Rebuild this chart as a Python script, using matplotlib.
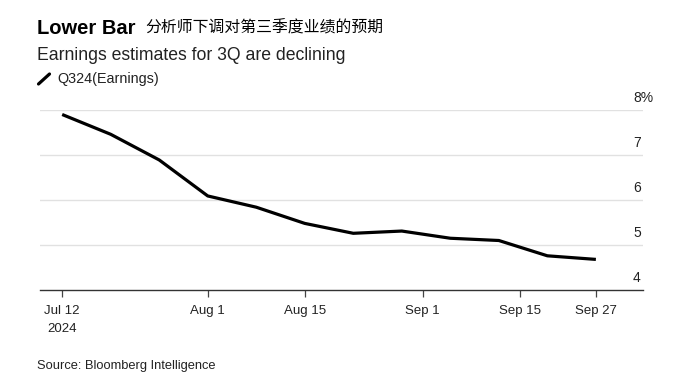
import matplotlib
matplotlib.use("Agg")
import matplotlib.pyplot as plt
import matplotlib.dates as mdates
import matplotlib.transforms as mtransforms
import numpy as np
from matplotlib.lines import Line2D

# weekly readings of the Q3 2024 earnings growth estimate (%)
dates = ["2024-07-11", "2024-07-18", "2024-07-25", "2024-08-01", "2024-08-08", "2024-08-15",
         "2024-08-22", "2024-08-29", "2024-09-05", "2024-09-12", "2024-09-19", "2024-09-26"]
earnings = [7.90, 7.46, 6.89, 6.09, 5.84, 5.48, 5.26, 5.31, 5.15, 5.10, 4.76, 4.68]

# first/last ticks sit on the first/last observation
tick_dates = ["2024-07-11", "2024-08-01", "2024-08-15", "2024-09-01", "2024-09-15", "2024-09-26"]
tick_labels = ["Jul 12\n2024", "Aug 1", "Aug 15", "Sep 1", "Sep 15", "Sep 27"]
y_ticks = [4, 5, 6, 7, 8]
y_labels = ["4", "5", "6", "7", "8%"]

sans = ["Liberation Sans", "DejaVu Sans"]
cjk = ["Noto Sans CJK SC", "DejaVu Sans"]

W, H = 694, 388
fig = plt.figure(figsize=(W / 100, H / 100), dpi=100)
ax_l, ax_r = 40, 643
ax = fig.add_axes([ax_l / W, 1 - 290 / H, (ax_r - ax_l) / W, (290 - 110) / H])

to_num = lambda d: mdates.date2num(np.datetime64(d).astype("O"))
x = [to_num(d) for d in dates]
ax.plot(x, earnings, color="black", lw=2.3, solid_joinstyle="round", solid_capstyle="butt", zorder=3)

x0 = to_num(dates[0])
ax.set_xlim(x0 - 3.2, x0 + 83.8)
ax.set_ylim(4, 8)

ax.set_xticks([to_num(d) for d in tick_dates])
ax.set_xticklabels(tick_labels, family=sans, fontsize=9.5, color="#222222", linespacing=1.6)
ax.tick_params(axis="x", length=5, width=0.9, color="#444444", pad=6)
ax.set_yticks([])

for y in y_ticks[1:]:
    ax.axhline(y, color="#e1e1e1", lw=1.0, zorder=1)

# value labels on the right, a few px above their gridline
trans = mtransforms.blended_transform_factory(ax.transAxes, ax.transData) + \
    mtransforms.ScaledTranslation(0, 5 / 100, fig.dpi_scale_trans)
for y, lab in zip(y_ticks, y_labels):
    ax.text((633 - ax_l) / (ax_r - ax_l), y, lab, transform=trans,
            ha="left", va="bottom", fontsize=10, family=sans, color="#222222")

for s in ["top", "right", "left"]:
    ax.spines[s].set_visible(False)
ax.spines["bottom"].set_color("#333333")
ax.spines["bottom"].set_linewidth(1.0)

fig.text(37 / W, 1 - 28 / H, "Lower Bar", fontsize=14.5, fontweight="bold", family=sans,
         va="center", ha="left", color="black")
fig.text(145 / W, 1 - 28 / H, "分析师下调对第三季度业绩的预期", fontsize=11.4, family=cjk,
         va="center", ha="left", color="black")
fig.text(37 / W, 1 - 55 / H, "Earnings estimates for 3Q are declining", fontsize=12.7, family=sans,
         va="center", ha="left", color="#222222")
fig.add_artist(Line2D([38.5 / W, 49.5 / W], [1 - 84 / H, 1 - 74 / H], color="black", lw=2.3,
                      solid_capstyle="round", transform=fig.transFigure))
fig.text(57 / W, 1 - 79 / H, "Q324(Earnings)", fontsize=10.4, family=sans,
         va="center", ha="left", color="#222222")
fig.text(37 / W, 1 - 366 / H, "Source: Bloomberg Intelligence", fontsize=9.3, family=sans,
         va="center", ha="left", color="#222222")

fig.savefig("out.png", dpi=100)
